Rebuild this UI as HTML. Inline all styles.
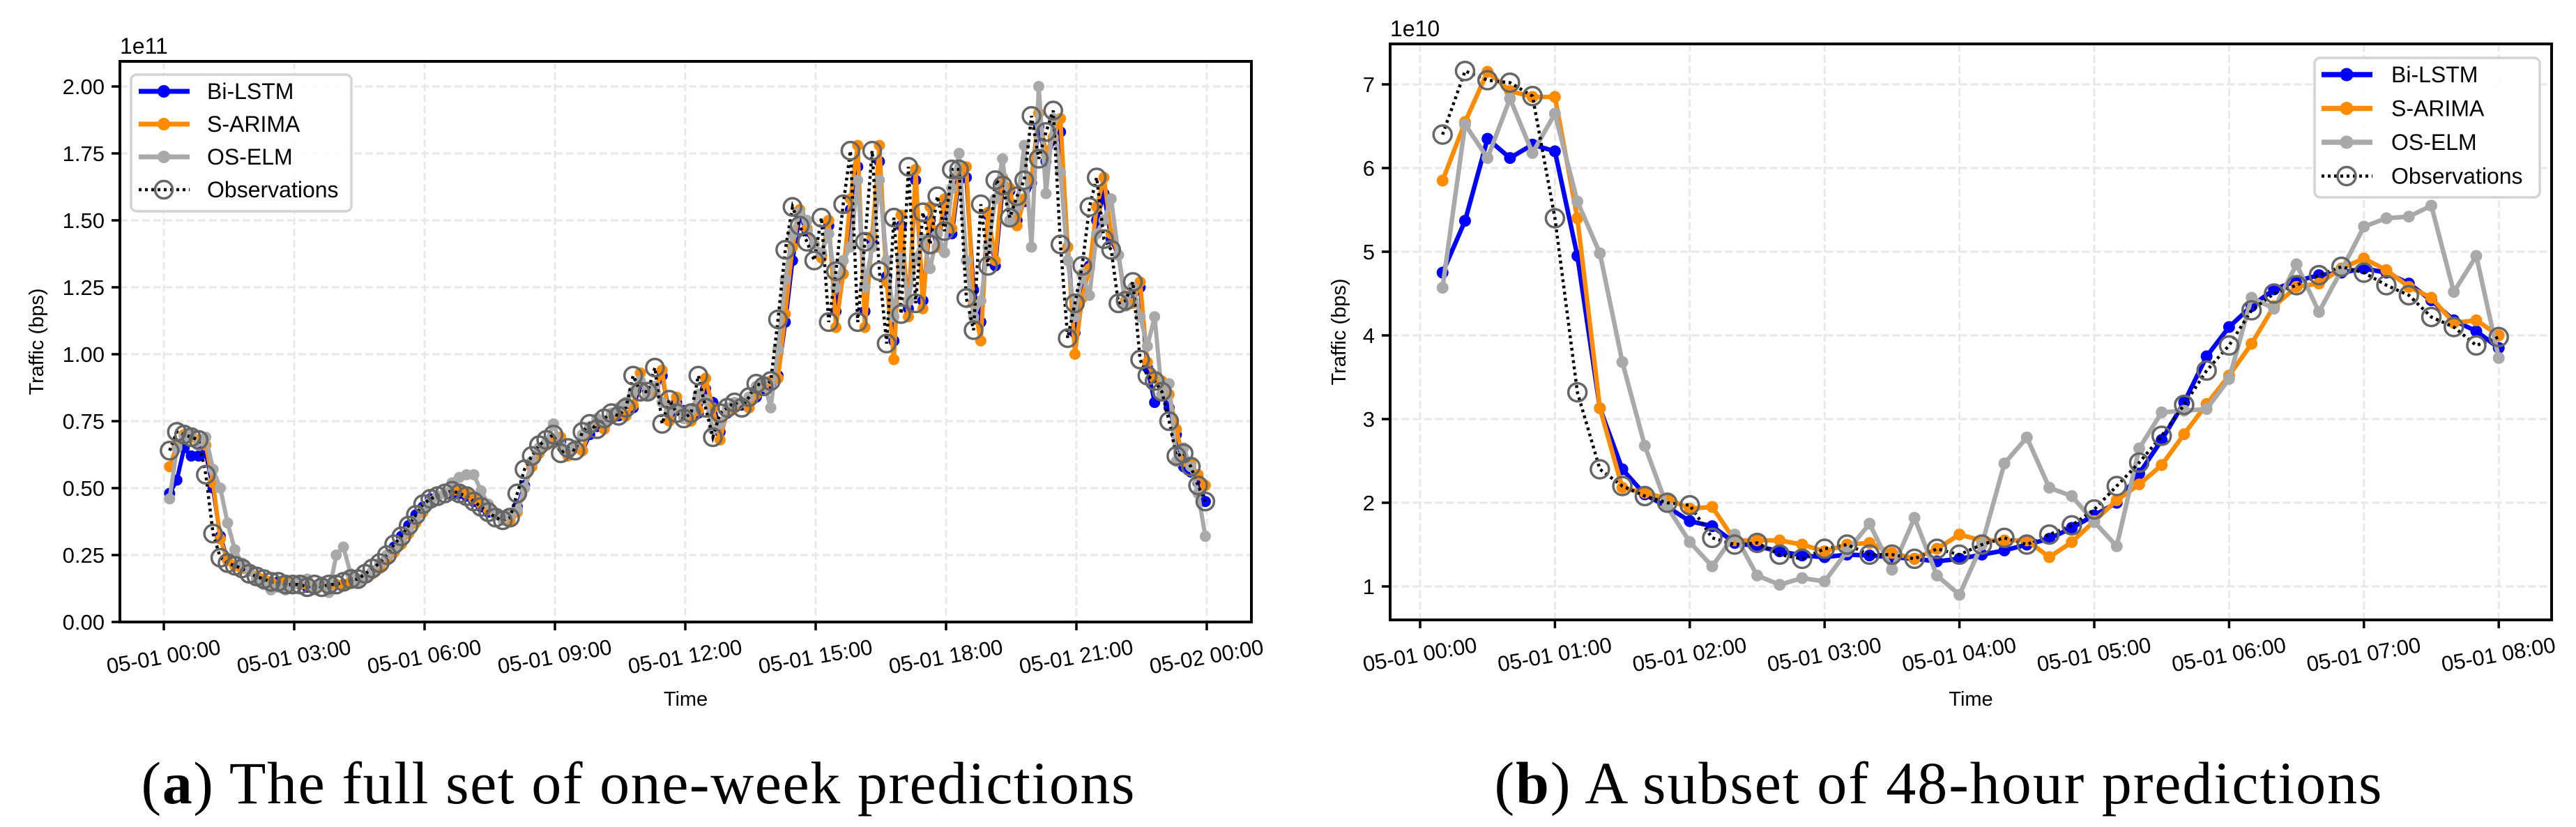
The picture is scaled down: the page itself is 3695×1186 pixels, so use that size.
<!DOCTYPE html>
<html><head><meta charset="utf-8">
<style>
html,body{margin:0;padding:0;background:#fff;}
svg{display:block;font-family:"Liberation Sans",Arial,sans-serif;}
</style></head>
<body>
<svg id="fig" width="3695" height="1186" viewBox="0 0 3695 1186" xmlns="http://www.w3.org/2000/svg">
  <rect x="0" y="0" width="3695" height="1186" fill="#fff"/>
  <text x="915" y="1152" text-anchor="middle" font-family="'Liberation Serif',serif" font-size="86" textLength="1425">(<tspan font-weight="bold">a</tspan>) The full set of one-week predictions</text>
  <text x="2780" y="1152" text-anchor="middle" font-family="'Liberation Serif',serif" font-size="86" textLength="1273">(<tspan font-weight="bold">b</tspan>) A subset of 48-hour predictions</text>
</svg>
<script>
// ---------- Chart A data (units of 1e11 bps, 10-minute samples) ----------
const obsA = [0.64,0.71,0.70,0.69,0.68,0.55,0.33,0.24,0.22,0.21,0.20,0.18,0.17,0.16,0.15,0.15,0.14,0.14,0.14,0.13,0.14,0.13,0.14,0.14,0.15,0.16,0.16,0.18,0.20,0.22,0.25,0.29,0.32,0.36,0.40,0.44,0.46,0.47,0.48,0.49,0.48,0.47,0.45,0.43,0.41,0.39,0.38,0.39,0.48,0.57,0.62,0.66,0.68,0.70,0.63,0.65,0.64,0.71,0.74,0.72,0.76,0.78,0.77,0.80,0.92,0.86,0.86,0.95,0.74,0.83,0.78,0.76,0.78,0.92,0.80,0.69,0.78,0.80,0.82,0.80,0.84,0.89,0.88,
0.90,1.13,1.39,1.55,1.48,1.42,1.35,1.51,1.12,1.31,1.56,1.76,1.12,1.42,1.76,1.31,1.04,1.51,1.15,1.70,1.19,1.53,1.41,1.59,1.46,1.69,1.69,1.21,1.09,1.56,1.33,1.65,1.63,1.51,1.59,1.65,1.89,1.73,1.83,1.91,1.41,1.06,1.19,
1.33,1.55,1.66,1.43,1.39,1.19,1.20,1.27,0.98,0.92,0.90,0.86,0.75,0.62,0.63,0.58,0.51,0.45];
const biA = [0.48,0.53,0.65,0.62,0.62,0.63,0.50,0.32,0.23,0.21,0.20,0.19,0.17,0.16,0.15,0.15,0.14,0.14,0.14,0.13,0.13,0.14,0.13,0.14,0.14,0.15,0.16,0.17,0.19,0.21,0.24,0.28,0.32,0.36,0.40,0.43,0.46,0.47,0.48,0.48,0.48,0.47,0.45,0.43,0.41,0.40,0.39,0.39,0.43,0.51,0.58,0.63,0.66,0.68,0.67,0.63,0.65,0.64,0.70,0.73,0.73,0.76,0.77,0.77,0.80,0.89,0.86,0.86,0.92,0.78,0.82,0.79,0.76,0.78,0.87,0.82,0.71,0.78,0.80,0.81,0.80,0.84,0.87,
0.89,0.92,1.12,1.35,1.52,1.46,1.41,1.37,1.48,1.16,1.30,1.54,1.70,1.16,1.42,1.72,1.29,1.05,1.48,1.17,1.65,1.20,1.50,1.40,1.56,1.45,1.65,1.66,1.24,1.12,1.52,1.33,1.62,1.61,1.50,1.57,1.64,1.85,1.72,1.80,1.83,1.40,1.08,
1.22,1.33,1.50,1.60,1.43,1.37,1.20,1.20,1.25,0.95,0.82,0.85,0.80,0.70,0.58,0.56,0.52,0.45];
const sarA = [0.58,0.66,0.70,0.69,0.68,0.66,0.52,0.31,0.23,0.21,0.20,0.19,0.17,0.16,0.15,0.14,0.15,0.14,0.14,0.14,0.13,0.14,0.13,0.14,0.14,0.15,0.16,0.17,0.18,0.20,0.23,0.26,0.29,0.33,0.37,0.41,0.45,0.47,0.48,0.49,0.49,0.48,0.46,0.44,0.42,0.40,0.39,0.38,0.41,0.50,0.58,0.63,0.66,0.68,0.69,0.62,0.65,0.64,0.72,0.75,0.72,0.77,0.78,0.77,0.81,0.93,0.85,0.86,0.94,0.75,0.84,0.77,0.75,0.79,0.91,0.80,0.68,0.79,0.80,0.82,0.80,0.85,0.88,
0.90,0.91,1.15,1.40,1.54,1.47,1.41,1.36,1.50,1.10,1.30,1.58,1.78,1.10,1.44,1.78,1.27,0.98,1.52,1.14,1.69,1.17,1.55,1.40,1.58,1.47,1.67,1.70,1.19,1.05,1.53,1.35,1.66,1.62,1.48,1.58,1.66,1.90,1.75,1.81,1.88,1.40,1.00,
1.21,1.32,1.55,1.66,1.45,1.37,1.20,1.19,1.27,0.97,0.91,0.90,0.85,0.72,0.60,0.59,0.55,0.51];
const osA = [0.46,0.65,0.69,0.70,0.66,0.69,0.57,0.50,0.37,0.27,0.22,0.19,0.16,0.14,0.12,0.13,0.12,0.14,0.15,0.16,0.12,0.15,0.11,0.25,0.28,0.18,0.15,0.17,0.19,0.22,0.25,0.27,0.30,0.34,0.38,0.42,0.45,0.47,0.48,0.52,0.54,0.55,0.55,0.49,0.44,0.40,0.38,0.40,0.42,0.50,0.60,0.65,0.67,0.74,0.66,0.64,0.66,0.70,0.73,0.76,0.75,0.78,0.80,0.82,0.86,0.90,0.85,0.88,0.82,0.79,0.80,0.76,0.79,0.85,0.83,0.72,0.74,0.80,0.82,0.82,0.84,0.88,0.90,
0.80,1.02,1.28,1.45,1.53,1.50,1.41,1.38,1.45,1.25,1.35,1.40,1.65,1.25,1.40,1.65,1.35,1.14,1.36,1.20,1.36,1.43,1.32,1.45,1.38,1.62,1.75,1.35,1.14,1.20,1.40,1.58,1.73,1.50,1.55,1.78,1.40,2.00,1.60,1.88,1.68,1.35,1.14,
1.30,1.22,1.45,1.50,1.58,1.37,1.18,1.25,1.14,1.03,1.14,0.85,0.89,0.60,0.65,0.58,0.48,0.32];
const xTicksA = ["05-01 00:00","05-01 03:00","05-01 06:00","05-01 09:00","05-01 12:00","05-01 15:00","05-01 18:00","05-01 21:00","05-02 00:00"];
const yTicksA = ["0.00","0.25","0.50","0.75","1.00","1.25","1.50","1.75","2.00"];
const yTickValsA = [0,0.25,0.5,0.75,1,1.25,1.5,1.75,2];

// ---------- Chart B data (units of 1e10 bps, 10-minute samples 00:10..08:00) ----------
const obsB = [6.40,7.16,7.05,7.02,6.86,5.40, 3.32,2.40,2.20,2.08,2.00,1.97, 1.58,1.50,1.52,1.38,1.33,1.45, 1.50,1.38,1.38,1.33,1.45,1.38, 1.50,1.58,1.50,1.62,1.73,1.92, 2.20,2.48,2.80,3.17,3.58,3.88, 4.30,4.50,4.60,4.72,4.82,4.75, 4.60,4.48,4.22,4.10,3.88,3.98];
const biB = [4.75,5.37,6.35,6.12,6.28,6.20, 4.95,3.13,2.40,2.10,1.95,1.78, 1.72,1.52,1.48,1.42,1.37,1.35, 1.38,1.37,1.35,1.33,1.30,1.33, 1.38,1.43,1.50,1.57,1.70,1.85, 2.00,2.35,2.75,3.20,3.75,4.10, 4.35,4.55,4.65,4.72,4.75,4.80, 4.75,4.62,4.42,4.18,4.05,3.85];
const sarB = [5.85,6.55,7.15,6.92,6.85,6.85, 5.40,3.13,2.18,2.12,2.05,1.93, 1.95,1.55,1.55,1.55,1.50,1.42, 1.50,1.52,1.40,1.33,1.45,1.62, 1.55,1.55,1.55,1.35,1.53,1.78, 2.03,2.22,2.45,2.82,3.18,3.52, 3.90,4.35,4.58,4.62,4.80,4.92, 4.78,4.58,4.45,4.15,4.18,4.00];
const osB = [4.57,6.52,6.12,6.83,6.18,6.65, 5.60,4.98,3.68,2.68,1.95,1.53, 1.24,1.62,1.13,1.02,1.10,1.06, 1.42,1.75,1.20,1.82,1.13,0.90, 1.50,2.47,2.78,2.18,2.08,1.77, 1.48,2.65,3.08,3.10,3.12,3.48, 4.45,4.32,4.85,4.28,4.78,5.30, 5.40,5.42,5.55,4.52,4.95,3.73];
const xTicksB = ["05-01 00:00","05-01 01:00","05-01 02:00","05-01 03:00","05-01 04:00","05-01 05:00","05-01 06:00","05-01 07:00","05-01 08:00"];
const yTicksB = ["1","2","3","4","5","6","7"];
const yTickValsB = [1,2,3,4,5,6,7];

const NS = "http://www.w3.org/2000/svg";
const svg = document.getElementById("fig");
function mk(tag, attrs, parent){
  const e = document.createElementNS(NS, tag);
  for (const k in attrs) e.setAttribute(k, attrs[k]);
  (parent||svg).appendChild(e);
  return e;
}
const C_BLUE="#0000ff", C_ORANGE="#ff8c00", C_GRAY="#a9a9a9", C_OBS="#666666";

function drawChart(cfg){
  const g = mk("g", {});
  
  
  const X = m => cfg.x0 + (m - cfg.m0) * cfg.pxPerMin;
  const Y = v => cfg.yRef + (cfg.vRef - v) * cfg.pxPerUnit;
  cfg.xTicks.forEach((lab, k) => {
    const x = X(cfg.m0 + k * cfg.tickMin);
    const gl = mk("line", {x1:x, x2:x, y1:cfg.top, y2:cfg.bottom, stroke:"#e8e8e8", "stroke-width":3, "stroke-dasharray":"11,5"}, g);
    
    
  });
  cfg.yVals.forEach((v, k) => {
    const y = Y(v);
    const gl = mk("line", {x1:cfg.left, x2:cfg.right, y1:y, y2:y, stroke:"#e8e8e8", "stroke-width":3, "stroke-dasharray":"11,5"}, g);
    
    
  });
  const n = cfg.obs.length;
  const xs = [];
  for (let i = 0; i < n; i++) xs.push(X(cfg.firstMin + i * cfg.stepMin));
  function series(vals, color, nm, r, lw){
    const sg = mk("g", {}, g);
    
    
    const pts = vals.map((v, i) => xs[i].toFixed(1) + "," + Y(v).toFixed(1)).join(" ");
    mk("polyline", {points:pts, fill:"none", stroke:color, "stroke-width":lw, "stroke-linejoin":"round"}, sg);
    vals.forEach((v, i) => {
      const c = mk("circle", {cx:xs[i], cy:Y(v), r:r, fill:color}, sg);
      
      
    });
  }
  series(cfg.bi, C_BLUE, "bi-lstm-series", cfg.mr, cfg.lw);
  series(cfg.sar, C_ORANGE, "s-arima-series", cfg.mr, cfg.lw);
  series(cfg.os, C_GRAY, "os-elm-series", cfg.mr, cfg.lw);
  const og = mk("g", {}, g);
  
  
  const opts = cfg.obs.map((v, i) => xs[i].toFixed(1) + "," + Y(v).toFixed(1)).join(" ");
  mk("polyline", {points:opts, fill:"none", stroke:"#000", "stroke-width":4.5, "stroke-dasharray":"4,5"}, og);
  cfg.obs.forEach((v, i) => {
    const c = mk("circle", {cx:xs[i], cy:Y(v), r:cfg.or, fill:"none", stroke:C_OBS, "stroke-width":3.5}, og);
    
    
  });
  const fr = mk("rect", {x:cfg.left, y:cfg.top, width:cfg.right-cfg.left, height:cfg.bottom-cfg.top, fill:"none", stroke:"#000", "stroke-width":4}, g);
  
  
  cfg.xTicks.forEach((lab, k) => {
    const x = X(cfg.m0 + k * cfg.tickMin);
    mk("line", {x1:x, x2:x, y1:cfg.bottom, y2:cfg.bottom+12, stroke:"#000", "stroke-width":3.5}, g);
    const t = mk("text", {x:0, y:0, "font-size":31, "text-anchor":"middle", "dominant-baseline":"middle", transform:`translate(${x},${cfg.bottom+52}) rotate(-10)`}, g);
    t.textContent = lab;
    
    
  });
  cfg.yVals.forEach((v, k) => {
    const y = Y(v);
    mk("line", {x1:cfg.left-12, x2:cfg.left, y1:y, y2:y, stroke:"#000", "stroke-width":3.5}, g);
    const t = mk("text", {x:cfg.left-22, y:y+11, "font-size":31, "text-anchor":"end"}, g);
    t.textContent = cfg.yLabels[k];
    
    
  });
  const off = mk("text", {x:cfg.left, y:cfg.top-11, "font-size":32}, g);
  off.textContent = cfg.offset;
  
  
  const yl = mk("text", {x:0, y:0, "font-size":29, "text-anchor":"middle", transform:`translate(${cfg.ylx},${(cfg.top+cfg.bottom)/2}) rotate(-90)`}, g);
  yl.textContent = "Traffic (bps)";
  
  
  const xl = mk("text", {x:(cfg.left+cfg.right)/2, y:1012, "font-size":29, "text-anchor":"middle"}, g);
  xl.textContent = "Time";
  
  
  const L = cfg.legend;
  const lg = mk("g", {}, g);
  
  
  mk("rect", {x:L.x, y:L.y, width:L.w, height:L.h, rx:8, fill:"#fff", "fill-opacity":0.85, stroke:"#d3d3d3", "stroke-width":3.5}, lg);
  const ents = [["Bi-LSTM", C_BLUE], ["S-ARIMA", C_ORANGE], ["OS-ELM", C_GRAY], ["Observations", null]];
  ents.forEach((e, k) => {
    const y = L.ry + k * L.dy;
    const eg = mk("g", {}, lg);
    
    
    if (e[1]) {
      mk("line", {x1:L.lx, x2:L.lx+73, y1:y, y2:y, stroke:e[1], "stroke-width":cfg.lw+1}, eg);
      mk("circle", {cx:L.lx+36, cy:y, r:cfg.mr+1, fill:e[1]}, eg);
    } else {
      mk("line", {x1:L.lx, x2:L.lx+73, y1:y, y2:y, stroke:"#000", "stroke-width":4.5, "stroke-dasharray":"4,5"}, eg);
      mk("circle", {cx:L.lx+36, cy:y, r:cfg.or, fill:"none", stroke:C_OBS, "stroke-width":3.5}, eg);
    }
    const t = mk("text", {x:L.tx, y:y+11, "font-size":32}, eg);
    t.textContent = e[0];
  });
}

drawChart({
  name:"chart-full-week", obs:obsA, bi:biA, sar:sarA, os:osA,
  left:172, right:1795, top:88, bottom:892,
  x0:235, m0:0, pxPerMin:187/180, tickMin:180, firstMin:8, stepMin:10,
  yRef:892, vRef:0, pxPerUnit:384, yVals:yTickValsA, yLabels:yTicksA, xTicks:xTicksA,
  offset:"1e11", ylx:62, mr:8, lw:6, or:12.5,
  legend:{x:188, y:107, w:316, h:196, lx:199, tx:297, ry:131, dy:47}
});
drawChart({
  name:"chart-48-hour-subset", obs:obsB, bi:biB, sar:sarB, os:osB,
  left:1994, right:3660, top:63, bottom:889,
  x0:2037, m0:0, pxPerMin:193.4/60, tickMin:60, firstMin:10, stepMin:10,
  yRef:121, vRef:7, pxPerUnit:120, yVals:yTickValsB, yLabels:yTicksB, xTicks:xTicksB,
  offset:"1e10", ylx:1930, mr:8.5, lw:6.5, or:13,
  legend:{x:3320, y:83, w:323, h:200, lx:3330, tx:3430, ry:107, dy:48.5}
});
</script>
</body></html>
